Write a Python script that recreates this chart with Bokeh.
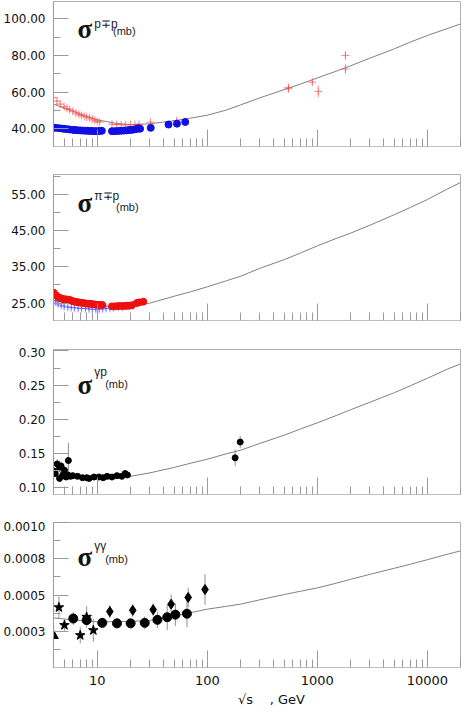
from bokeh.plotting import figure
from bokeh.layouts import column
from bokeh.models import FixedTicker, Range1d, Label
from bokeh.embed import file_html
from bokeh.resources import INLINE

# ---------------- data ----------------
x_ticks = [10, 100, 1000, 10000]
x_tick_labels = ["10", "100", "1000", "10000"]
x_minor = [4, 5, 6, 7, 8, 9, 20, 30, 40, 50, 60, 70, 80, 90,
           200, 300, 400, 500, 600, 700, 800, 900,
           2000, 3000, 4000, 5000, 6000, 7000, 8000, 9000, 20000]
x_title = "\u00a0" * 7 + "\u221as\u00a0\u00a0\u00a0\u00a0, GeV"

# panel 1 : sigma(p-p / pbar-p)
pp_x = [4.0, 4.2, 4.5, 4.8, 5.0, 5.3, 5.6, 6.0, 6.3, 6.6, 7.0, 7.4, 7.8, 8.2, 8.6, 9.0, 9.5, 10.0, 10.5, 11.0,
        13.6, 14.5, 15.5, 16.5, 17.5, 18.5, 19.5, 20.5, 21.5, 22.5, 23.5, 24.5, 30.6, 44.4, 53.0, 63.0]
pp_y = [40.5, 40.4, 40.2, 40.0, 39.9, 39.7, 39.5, 39.3, 39.2, 39.1, 39.0, 38.9, 38.8, 38.8, 38.7, 38.7, 38.6, 38.6, 38.7, 38.8,
        38.6, 38.6, 38.7, 38.8, 38.9, 39.0, 39.2, 39.3, 39.5, 39.7, 40.2, 39.9, 40.4, 42.2, 42.7, 43.6]
pbar_x = [4.0, 4.3, 4.6, 5.0, 5.3, 5.6, 6.0, 6.4, 6.8, 7.2, 7.6, 8.0, 8.5, 9.0, 9.5, 10.0, 10.5,
          13.6, 15.0, 16.5, 18.0, 20.0, 22.0, 24.0, 30.4, 52.6, 546, 546, 900, 1020, 1800, 1800]
pbar_y = [57.0, 55.0, 53.4, 52.0, 51.0, 50.3, 49.5, 48.5, 47.8, 47.2, 46.8, 46.3, 45.8, 45.2, 44.6, 43.9, 43.5,
          42.4, 42.2, 42.1, 42.0, 42.1, 42.2, 42.3, 43.5, 44.3, 61.8, 62.4, 65.4, 60.3, 72.6, 80.0]
pbar_e = [0.8, 0.8, 0.7, 0.7, 0.6, 0.6, 0.6, 0.5, 0.5, 0.5, 0.5, 0.5, 0.5, 0.5, 0.5, 0.5, 0.5,
          0.4, 0.4, 0.4, 0.4, 0.4, 0.4, 0.4, 0.6, 0.6, 1.5, 1.5, 1.5, 3.4, 2.5, 2.2]
c1_x = [4, 5, 6, 8, 10, 15, 20, 30, 50, 70, 100, 150, 200, 300, 500, 700, 1000, 1500, 2000, 3000, 5000, 7000, 10000, 15000, 20000]
c1_y = [53.4, 51.2, 49.5, 46.8, 44.8, 42.8, 42.2, 42.6, 44.3, 45.7, 47.3, 50.2, 52.9, 56.8, 61.3, 64.3, 67.7, 71.5, 74.3, 78.5, 83.6, 87.3, 90.9, 94.6, 97.2]
p1_ticks = [40, 60, 80, 100]
p1_labels = ["40.00", "60.00", "80.00", "100.00"]
p1_minor = [30, 50, 70, 90]

# panel 2 : sigma(pi-p)
pim_x = [4.0, 4.2, 4.4, 4.6, 4.8, 5.0, 5.3, 5.6, 5.9, 6.2, 6.5, 6.8, 7.1, 7.5, 7.9, 8.3, 8.7, 9.1, 9.6, 10.1, 10.6, 11.1,
         13.6, 14.6, 15.6, 16.6, 17.6, 18.6, 19.6, 20.6, 22.8, 24.0, 26.2]
pim_y = [27.9, 27.2, 26.7, 26.4, 26.2, 26.1, 26.0, 25.9, 25.6, 25.4, 25.3, 25.2, 25.1, 25.0, 24.9, 24.8, 24.8, 24.7, 24.6, 24.5, 24.5, 24.5,
         24.1, 24.1, 24.2, 24.2, 24.2, 24.3, 24.3, 24.4, 25.0, 25.2, 25.4]
pip_x = [4.0, 4.2, 4.4, 4.7, 5.0, 5.4, 5.8, 6.2, 6.7, 7.2, 7.8, 8.4, 9.0, 9.7, 10.4, 11.2, 12.0, 13.0, 14.0, 15.5, 17.0, 19.0, 21.0]
pip_y = [25.7, 25.3, 24.8, 24.4, 24.1, 23.9, 23.8, 23.7, 23.6, 23.5, 23.5, 23.4, 23.3, 23.3, 23.3, 23.4, 23.5, 23.6, 23.7, 23.8, 23.9, 24.1, 24.3]
pip_e = [0.8, 0.8, 0.8, 0.7, 0.7, 0.7, 0.7, 0.7, 0.7, 0.7, 0.7, 0.7, 0.7, 0.7, 0.7, 0.7, 0.7, 0.6, 0.6, 0.6, 0.6, 0.6, 0.6]
c2_x = [4, 5, 6, 8, 10, 15, 20, 30, 50, 70, 100, 150, 200, 300, 500, 700, 1000, 1500, 2000, 3000, 5000, 7000, 10000, 15000, 20000]
c2_y = [25.8, 25.2, 24.8, 24.4, 24.2, 24.1, 24.3, 25.0, 26.9, 28.1, 29.5, 31.2, 32.4, 34.6, 37.0, 38.8, 40.8, 42.9, 44.3, 46.5, 49.4, 51.4, 53.6, 56.4, 58.3]
p2_ticks = [25, 35, 45, 55]
p2_labels = ["25.00", "35.00", "45.00", "55.00"]
p2_minor = [30, 40, 50, 60]

# panel 3 : sigma(gamma p)
gp_x = [4.0, 4.15, 4.32, 4.54, 4.54, 4.69, 4.86, 5.03, 5.2, 5.39, 5.46, 5.7, 5.98, 6.62, 7.34, 8.02, 8.42, 9.34,
        10.35, 11.3, 12.3, 13.6, 15.1, 16.7, 17.9, 18.8, 179, 199]
gp_y = [0.125, 0.121, 0.135, 0.129, 0.114, 0.132, 0.119, 0.126, 0.116, 0.119, 0.140, 0.117, 0.118, 0.117, 0.115, 0.115, 0.114, 0.116,
        0.116, 0.115, 0.117, 0.116, 0.118, 0.117, 0.121, 0.119, 0.144, 0.167]
gp_e = [0.004, 0.004, 0.007, 0.005, 0.004, 0.006, 0.004, 0.005, 0.004, 0.004, 0.026, 0.003, 0.003, 0.002, 0.002, 0.002, 0.002, 0.002,
        0.002, 0.002, 0.002, 0.002, 0.002, 0.002, 0.002, 0.002, 0.012, 0.009]
c3_x = [10, 15, 20, 30, 50, 70, 100, 150, 200, 300, 500, 700, 1000, 1500, 2000, 3000, 5000, 7000, 10000, 15000, 20000]
c3_y = [0.115, 0.116, 0.117, 0.122, 0.130, 0.136, 0.142, 0.150, 0.155, 0.165, 0.177, 0.186, 0.195, 0.206, 0.214, 0.225, 0.239, 0.249, 0.260, 0.273, 0.281]
p3_ticks = [0.10, 0.15, 0.20, 0.25, 0.30]
p3_labels = ["0.10", "0.15", "0.20", "0.25", "0.30"]
p3_minor = [0.125, 0.175, 0.225, 0.275]

# panel 4 : sigma(gamma gamma)
tri_x = [4.03]
tri_y = [0.000296]
star_x = [4.48, 5.03, 7.0, 8.0, 9.2]
star_y = [0.000473, 0.000363, 0.000300, 0.000414, 0.000331]
star_e = [0.000066, 0.000035, 0.000050, 0.000066, 0.000071]
circ_x = [6.05, 8.0, 11.1, 15.1, 20.1, 27.0, 35.2, 43.2, 51.3, 65.3]
circ_y = [0.000404, 0.000394, 0.000377, 0.000374, 0.000374, 0.000377, 0.000396, 0.000412, 0.000428, 0.000434]
circ_e = [0.000040, 0.000030, 0.000030, 0.000030, 0.000030, 0.000040, 0.000050, 0.000080, 0.000070, 0.000085]
diam_x = [13.0, 21.0, 32.2, 46.9, 67.0, 95.3]
diam_y = [0.000447, 0.000455, 0.000459, 0.000493, 0.000535, 0.000584]
diam_e = [0.000040, 0.000040, 0.000040, 0.000060, 0.000060, 0.000095]
c4_x = [4, 6, 10, 20, 30, 50, 70, 100, 150, 200, 300, 500, 700, 1000, 1500, 2000, 3000, 5000, 7000, 10000, 15000, 20000]
c4_y = [0.000408, 0.000395, 0.000383, 0.000386, 0.000392, 0.000420, 0.000440, 0.000462, 0.000480, 0.000493, 0.000520,
        0.000553, 0.000573, 0.000594, 0.000624, 0.000647, 0.000678, 0.000716, 0.000741, 0.000769, 0.000802, 0.000824]
p4_ticks = [0.000325, 0.00055, 0.000775, 0.001]
p4_labels = ["0.0003", "0.0005", "0.0008", "0.0010"]
p4_minor = [0.0002125, 0.0004375, 0.0006625, 0.0008875]

# ---------------- styling ----------------
AXIS_COL = "#9a9a9a"
CURVE_COL = "#808080"
TICK_FONT = "DejaVu Sans"


def make_fig(height, top, bottom, yr, yt, yl, ym, show_x):
    p = figure(width=462, height=height, x_axis_type="log",
               x_range=Range1d(4, 20000), y_range=Range1d(*yr),
               output_backend="svg", toolbar_location=None,
               min_border_left=50, min_border_right=2,
               min_border_top=top, min_border_bottom=bottom)
    p.grid.visible = False
    p.outline_line_color = "#b0b0b0"
    p.background_fill_color = "white"
    p.border_fill_color = "white"

    ya = p.yaxis[0]
    ya.ticker = FixedTicker(ticks=yt, minor_ticks=ym)
    ya.major_label_overrides = {float(t): s for t, s in zip(yt, yl)}
    ya.axis_line_color = AXIS_COL
    ya.major_tick_line_color = AXIS_COL
    ya.minor_tick_line_color = AXIS_COL
    ya.major_tick_in = 15
    ya.major_tick_out = 0
    ya.minor_tick_in = 7
    ya.minor_tick_out = 0
    ya.major_label_standoff = 8
    ya.major_label_text_font = TICK_FONT
    ya.major_label_text_font_size = "12px"
    ya.major_label_text_color = "#111111"

    xa = p.xaxis[0]
    xa.ticker = FixedTicker(ticks=x_ticks, minor_ticks=x_minor)
    xa.axis_line_color = "#c0c0c0"
    xa.major_tick_line_color = AXIS_COL
    xa.minor_tick_line_color = AXIS_COL
    xa.major_tick_in = 17
    xa.major_tick_out = 0
    xa.minor_tick_in = 8
    xa.minor_tick_out = 0
    xa.major_label_overrides = {float(t): s for t, s in zip(x_ticks, x_tick_labels)}
    xa.major_label_text_font = TICK_FONT
    xa.major_label_text_font_size = "13px"
    xa.major_label_text_color = "#111111"
    xa.major_label_standoff = 8
    if show_x:
        xa.axis_label = x_title
        xa.axis_label_text_font = TICK_FONT
        xa.axis_label_text_font_size = "13px"
        xa.axis_label_text_font_style = "normal"
        xa.axis_label_text_color = "#111111"
        xa.axis_label_standoff = 4
    else:
        xa.major_label_text_alpha = 0.0
        xa.major_label_standoff = 2
    return p


def add_title(p, sx, sy, sup, supx, supy, subx, suby):
    p.add_layout(Label(x=sx, y=sy, text="\u03c3", text_font="Liberation Serif",
                       text_font_style="bold", text_font_size="27px",
                       text_color="#111111", text_baseline="alphabetic"))
    p.add_layout(Label(x=supx, y=supy, text=sup, text_font="Liberation Sans",
                       text_font_size="12px", text_color="#222222",
                       text_baseline="alphabetic"))
    p.add_layout(Label(x=subx, y=suby, text="(mb)", text_font="Liberation Sans",
                       text_font_size="11px", text_color="#222222",
                       text_baseline="alphabetic"))


def errbars(p, xs, ys, es, color, alpha=1.0, width=1):
    p.segment(x0=xs, y0=[y - e for y, e in zip(ys, es)],
              x1=xs, y1=[y + e for y, e in zip(ys, es)],
              line_color=color, line_alpha=alpha, line_width=width)


# ---------------- panel 1 ----------------
f1 = make_fig(173, 1, 27, (30.2, 109.5), p1_ticks, p1_labels, p1_minor, False)
f1.line(c1_x, c1_y, line_color=CURVE_COL, line_width=1)
errbars(f1, pbar_x, pbar_y, pbar_e, "#ff6060", 0.6)
f1.scatter(pbar_x, pbar_y, marker="cross", size=8, line_color="#ff5050", line_alpha=0.7, line_width=1)
f1.scatter(pp_x, pp_y, marker="circle", size=7, fill_color="#1010e0", line_color="#1010e0")
add_title(f1, 6.6, 94.3, "p\u2213p", 9.4, 97.0, 13.9, 93.5)

# ---------------- panel 2 ----------------
f2 = make_fig(174, 1, 27, (20.2, 60.5), p2_ticks, p2_labels, p2_minor, False)
f2.line(c2_x, c2_y, line_color=CURVE_COL, line_width=1)
errbars(f2, pip_x, pip_y, pip_e, "#6a6aff", 0.6)
f2.scatter(pip_x, pip_y, marker="cross", size=8, line_color="#5050ff", line_alpha=0.6, line_width=1)
f2.scatter(pim_x, pim_y, marker="circle", size=7, fill_color="#ee1010", line_color="#ee1010")
add_title(f2, 6.6, 52.6, "\u03c0\u2213p", 9.4, 54.5, 14.8, 51.4)

# ---------------- panel 3 ----------------
f3 = make_fig(174, 2, 27, (0.0905, 0.302), p3_ticks, p3_labels, p3_minor, False)
f3.line(c3_x, c3_y, line_color=CURVE_COL, line_width=1)
errbars(f3, gp_x, gp_y, gp_e, "#909090", 1.0)
f3.scatter(gp_x, gp_y, marker="circle", size=6, fill_color="black", line_color="black")
add_title(f3, 6.6, 0.2505, "\u03b3p", 9.4, 0.2685, 11.8, 0.2515)

# ---------------- panel 4 ----------------
f4 = make_fig(188, 1, 42, (0.0001, 0.001), p4_ticks, p4_labels, p4_minor, True)
f4.line(c4_x, c4_y, line_color=CURVE_COL, line_width=1)
errbars(f4, star_x, star_y, star_e, "#909090")
errbars(f4, circ_x, circ_y, circ_e, "#909090")
errbars(f4, diam_x, diam_y, diam_e, "#909090")
f4.scatter(tri_x, tri_y, marker="triangle", size=9, fill_color="black", line_color="black")
f4.scatter(star_x, star_y, marker="star", size=10, fill_color="black", line_color="black")
f4.scatter(circ_x, circ_y, marker="circle", size=9, fill_color="black", line_color="black")
f4.scatter(diam_x, diam_y, marker="diamond", size=10, fill_color="black", line_color="black")
add_title(f4, 6.6, 0.000783, "\u03b3\u03b3", 9.4, 0.000855, 11.8, 0.000772)

layout = column(f1, f2, f3, f4)
open("out.html", "w").write(file_html(layout, INLINE))
